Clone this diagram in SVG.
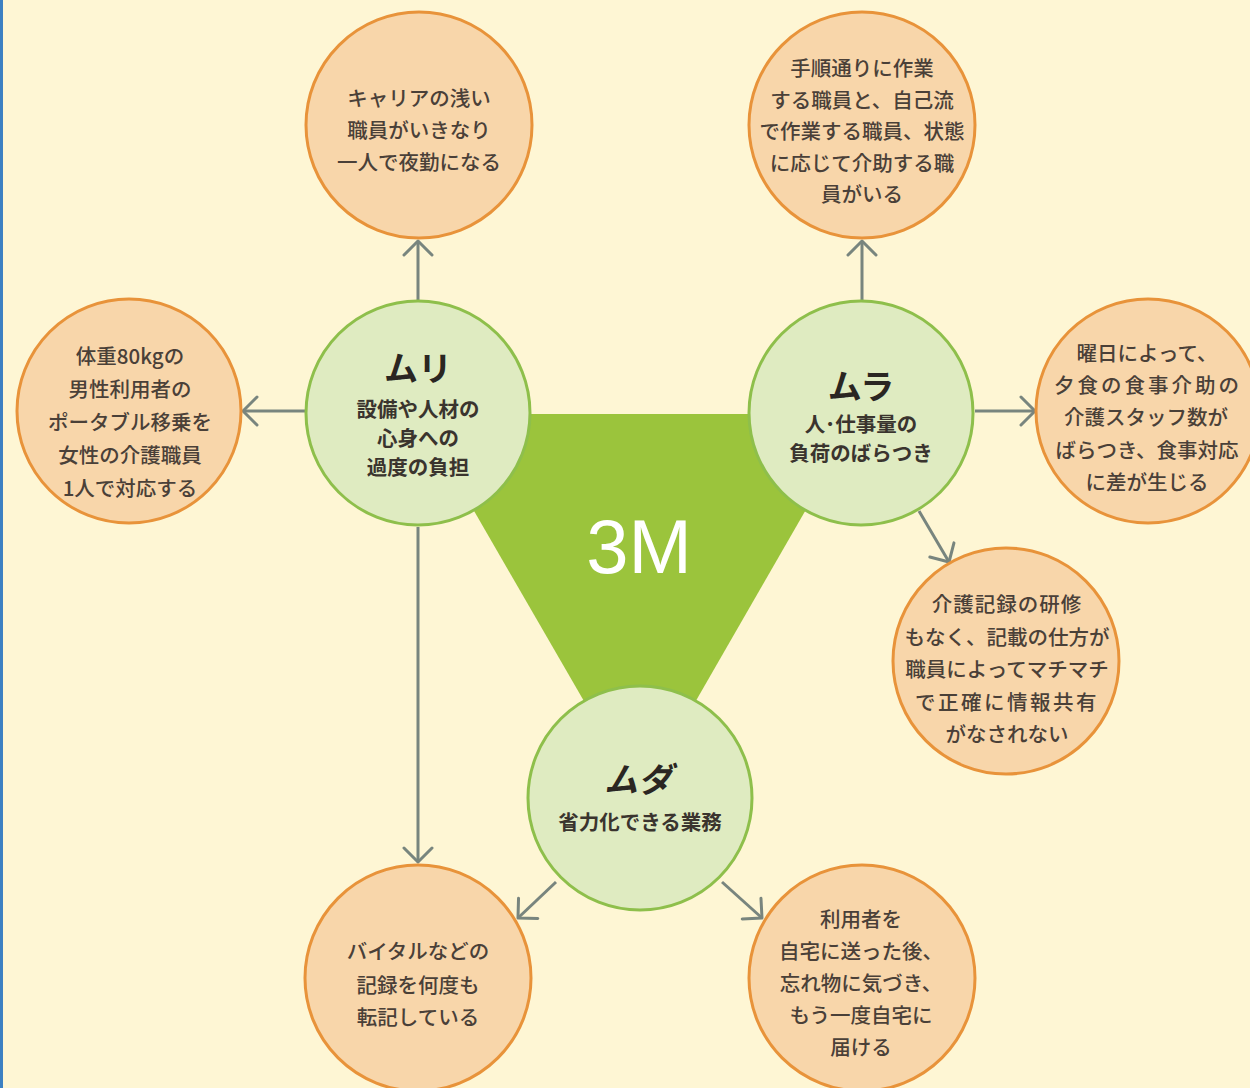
<svg xmlns="http://www.w3.org/2000/svg" width="1250" height="1088" viewBox="0 0 1250 1088">
  <style>
    .bg { fill: #FEF6D4; }
    .edge { fill: #3C80C2; }
    .core { fill: #9BC43C; }
    .m { fill: #DFEBC1; stroke: #8EBF4B; stroke-width: 3; }
    .c { fill: #F8D6AA; stroke: #E8933A; stroke-width: 3; }
    .link { fill: none; stroke: #78857E; stroke-width: 3; }
    .t { font-family: "Noto Sans CJK JP", "Noto Sans", sans-serif; text-anchor: middle; dominant-baseline: central; }
    .ct { font-size: 20.5px; font-weight: 500; fill: #4A4038; }
    .mt { font-size: 34px; font-weight: 700; fill: #2A2622; }
    .ms { font-size: 20.5px; font-weight: 700; fill: #3A342E; }
    .big { font-family: "Liberation Sans", Arial, sans-serif; font-size: 76px; fill: #FFFFFF; text-anchor: middle; }
  </style>
  <defs>
    <marker id="arrow" markerUnits="userSpaceOnUse" viewBox="-17 -17 19 34" markerWidth="19" markerHeight="34" refX="0" refY="0" orient="auto">
      <path d="M-14,-14 L0,0 L-14,14" fill="none" stroke="#78857E" stroke-width="3" stroke-linecap="round" stroke-linejoin="round"/>
    </marker>
  </defs>

  <rect class="bg" x="0" y="0" width="1250" height="1088"/>
  <rect class="edge" x="0" y="0" width="3" height="1088"/>

  <!-- central triangle joining the three M nodes -->
  <g id="core">
    <polygon class="core" points="418,414 861,414 640,798"/>
    <text class="big" x="639" y="573">3M</text>
  </g>

  <g id="connectors">
    <line class="link" x1="418" y1="300" x2="418" y2="241" marker-end="url(#arrow)"/>
    <line class="link" x1="305" y1="411" x2="243" y2="411" marker-end="url(#arrow)"/>
    <line class="link" x1="418" y1="527" x2="418" y2="862" marker-end="url(#arrow)"/>
    <line class="link" x1="862" y1="300" x2="862" y2="241" marker-end="url(#arrow)"/>
    <line class="link" x1="975" y1="411" x2="1035" y2="411" marker-end="url(#arrow)"/>
    <line class="link" x1="919" y1="511" x2="949" y2="562" marker-end="url(#arrow)"/>
    <line class="link" x1="556" y1="882" x2="518" y2="918" marker-end="url(#arrow)"/>
    <line class="link" x1="722" y1="882" x2="762" y2="918" marker-end="url(#arrow)"/>
  </g>

  <!-- the three M nodes -->
  <g id="muri">
    <circle class="m" cx="418" cy="413" r="112"/>
    <text class="t mt" x="418" y="366">ムリ</text>
    <text class="t ms" x="418" y="408">設備や人材の</text>
    <text class="t ms" x="418" y="437">心身への</text>
    <text class="t ms" x="418" y="466">過度の負担</text>
  </g>
  <g id="mura">
    <circle class="m" cx="861" cy="413" r="112"/>
    <text class="t mt" x="861" y="384">ムラ</text>
    <text class="t ms" x="861" y="423">人･仕事量の</text>
    <text class="t ms" x="861" y="452">負荷のばらつき</text>
  </g>
  <g id="muda">
    <circle class="m" cx="640" cy="798" r="112"/>
    <text class="t mt" x="638" y="777" font-style="italic">ムダ</text>
    <text class="t ms" x="640" y="821">省力化できる業務</text>
  </g>

  <!-- example nodes -->
  <g id="ex-night">
    <circle class="c" cx="419" cy="125" r="113"/>
    <text class="t ct" x="419" y="97">キャリアの浅い</text>
    <text class="t ct" x="419" y="129">職員がいきなり</text>
    <text class="t ct" x="419" y="161">一人で夜勤になる</text>
  </g>
  <g id="ex-transfer">
    <circle class="c" cx="129" cy="411" r="112"/>
    <text class="t ct" x="130" y="355">体重80kgの</text>
    <text class="t ct" x="130" y="388">男性利用者の</text>
    <text class="t ct" x="130" y="421">ポータブル移乗を</text>
    <text class="t ct" x="130" y="454">女性の介護職員</text>
    <text class="t ct" x="130" y="487">1人で対応する</text>
  </g>
  <g id="ex-procedure">
    <circle class="c" cx="862" cy="125" r="113"/>
    <text class="t ct" x="862" y="67">手順通りに作業</text>
    <text class="t ct" x="862" y="99">する職員と、自己流</text>
    <text class="t ct" x="862" y="130">で作業する職員、状態</text>
    <text class="t ct" x="862" y="162">に応じて介助する職</text>
    <text class="t ct" x="862" y="193">員がいる</text>
  </g>
  <g id="ex-staffing">
    <circle class="c" cx="1148" cy="411" r="112"/>
    <text class="t ct" x="1147" y="352">曜日によって、</text>
    <text class="t ct" x="1148" y="384" letter-spacing="3">夕食の食事介助の</text>
    <text class="t ct" x="1146" y="416">介護スタッフ数が</text>
    <text class="t ct" x="1147" y="449">ばらつき、食事対応</text>
    <text class="t ct" x="1147" y="481">に差が生じる</text>
  </g>
  <g id="ex-records">
    <circle class="c" cx="1006" cy="661" r="113"/>
    <text class="t ct" x="1007" y="603" letter-spacing="1">介護記録の研修</text>
    <text class="t ct" x="1007" y="636">もなく、記載の仕方が</text>
    <text class="t ct" x="1007" y="668">職員によってマチマチ</text>
    <text class="t ct" x="1007" y="701" letter-spacing="2.5">で正確に情報共有</text>
    <text class="t ct" x="1007" y="733">がなされない</text>
  </g>
  <g id="ex-vitals">
    <circle class="c" cx="418" cy="978" r="113"/>
    <text class="t ct" x="418" y="950">バイタルなどの</text>
    <text class="t ct" x="418" y="984">記録を何度も</text>
    <text class="t ct" x="418" y="1016">転記している</text>
  </g>
  <g id="ex-delivery">
    <circle class="c" cx="862" cy="978" r="113"/>
    <text class="t ct" x="861" y="918">利用者を</text>
    <text class="t ct" x="861" y="950">自宅に送った後、</text>
    <text class="t ct" x="861" y="982">忘れ物に気づき、</text>
    <text class="t ct" x="861" y="1014">もう一度自宅に</text>
    <text class="t ct" x="861" y="1046">届ける</text>
  </g>
</svg>
